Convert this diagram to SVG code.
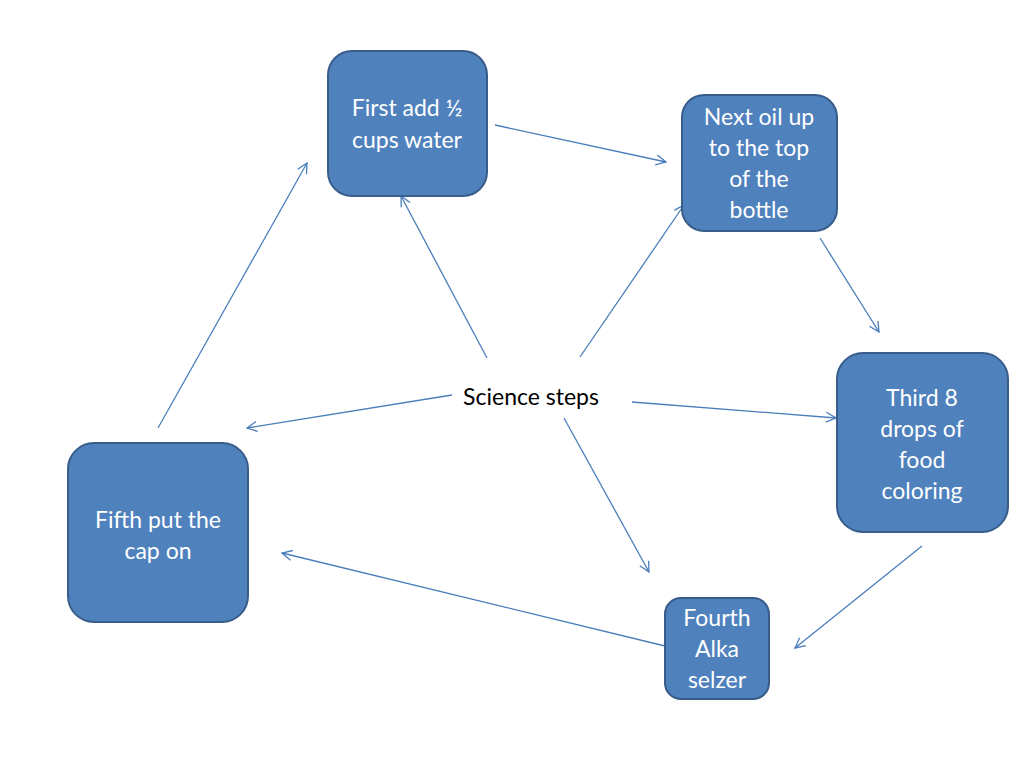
<svg xmlns="http://www.w3.org/2000/svg" width="1024" height="768" viewBox="0 0 1024 768">
<style>
.box{fill:#4F81BD;stroke:#385D8A;stroke-width:2}
.lbl{font-family:"Lato","Open Sans","Liberation Sans",sans-serif;font-size:23px;fill:#FFFFFF;text-anchor:middle}
.ctr{font-family:"Lato","Open Sans","Liberation Sans",sans-serif;font-size:23px;fill:#000000;text-anchor:middle}
.con{stroke:#4A7EBB;stroke-width:1.3;fill:none;marker-end:url(#arr)}
</style>
<defs>
<marker id="arr" viewBox="0 0 12 12" refX="11" refY="6" markerWidth="12" markerHeight="12" markerUnits="userSpaceOnUse" orient="auto">
<path d="M1,1 L11,6 L1,11" fill="none" stroke="#4A7EBB" stroke-width="1.3"/>
</marker>
</defs>
<rect width="1024" height="768" fill="#FFFFFF"/>
<g id="connectors">
<line class="con" x1="495" y1="125" x2="666" y2="162"/>
<line class="con" x1="820" y1="238" x2="879" y2="332"/>
<line class="con" x1="922" y1="546" x2="795" y2="648"/>
<line class="con" x1="665" y1="646" x2="282" y2="553"/>
<line class="con" x1="158" y1="428" x2="307" y2="163"/>
<line class="con" x1="487" y1="358" x2="401" y2="196"/>
<line class="con" x1="580" y1="357" x2="684" y2="205"/>
<line class="con" x1="632" y1="402" x2="836" y2="418"/>
<line class="con" x1="564" y1="418" x2="649" y2="572"/>
<line class="con" x1="452" y1="395" x2="247" y2="428"/>
</g>
<g id="center">
<text class="ctr" x="531" y="405">Science steps</text>
</g>
<g id="n1">
<rect class="box" x="328" y="51" width="159" height="145" rx="24"/>
<text class="lbl" x="407" y="116">First add ½</text>
<text class="lbl" x="407" y="148">cups water</text>
</g>
<g id="n2">
<rect class="box" x="682" y="95" width="155" height="136" rx="22"/>
<text class="lbl" x="759" y="125">Next oil up</text>
<text class="lbl" x="759" y="156">to the top</text>
<text class="lbl" x="759" y="187">of the</text>
<text class="lbl" x="759" y="218">bottle</text>
</g>
<g id="n3">
<rect class="box" x="837" y="353" width="171" height="179" rx="26"/>
<text class="lbl" x="922" y="406">Third 8</text>
<text class="lbl" x="922" y="437">drops of</text>
<text class="lbl" x="922" y="468">food</text>
<text class="lbl" x="922" y="499">coloring</text>
</g>
<g id="n4">
<rect class="box" x="665" y="598" width="104" height="101" rx="16"/>
<text class="lbl" x="717" y="626">Fourth</text>
<text class="lbl" x="717" y="657">Alka</text>
<text class="lbl" x="717" y="688">selzer</text>
</g>
<g id="n5">
<rect class="box" x="68" y="443" width="180" height="179" rx="26"/>
<text class="lbl" x="158" y="528">Fifth put the</text>
<text class="lbl" x="158" y="559">cap on</text>
</g>
</svg>
